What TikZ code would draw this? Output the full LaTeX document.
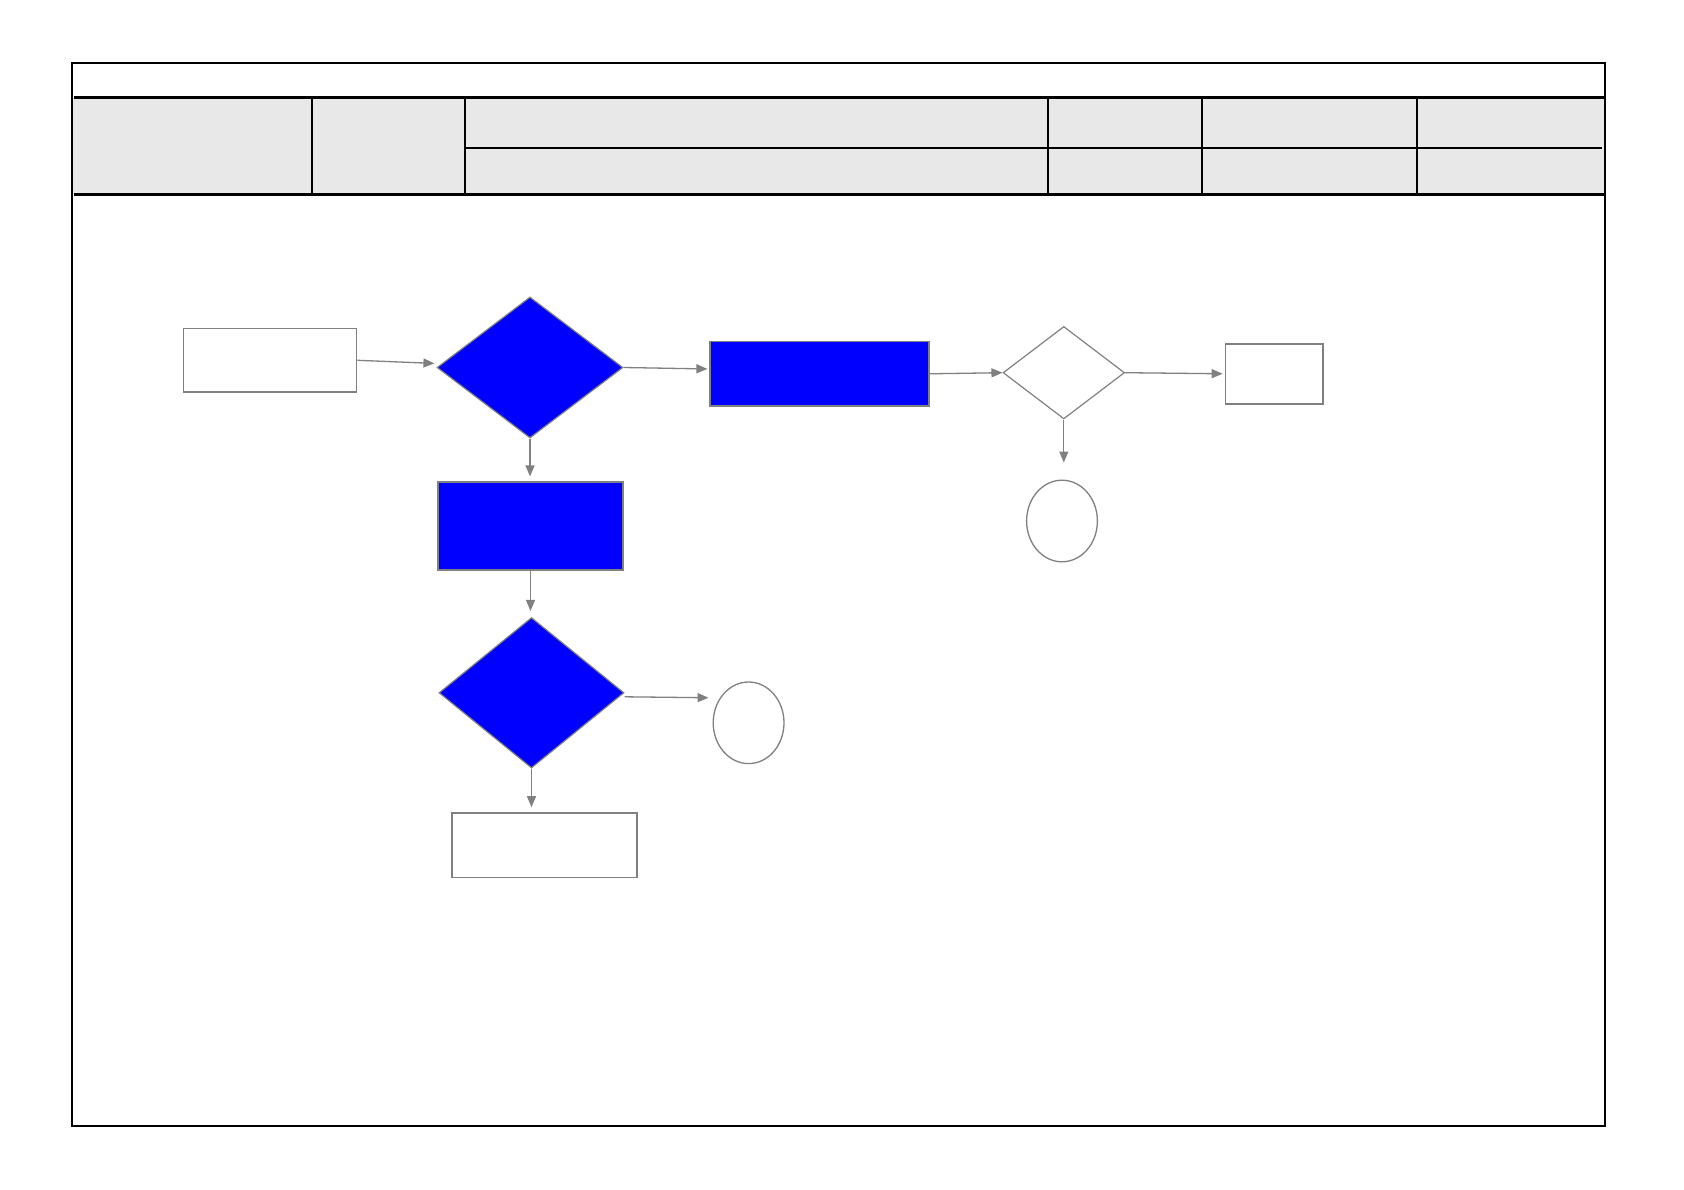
\documentclass[tikz,border=0pt]{standalone}
\usetikzlibrary{shapes.geometric,arrows.meta}
\definecolor{hdrgray}{HTML}{E8E8E8}
\definecolor{edgegray}{HTML}{808080}
\definecolor{fillblue}{HTML}{0000FF}
\tikzset{
  boxw/.style={draw=edgegray,line width=1.5pt,fill=white,inner sep=0pt},
  boxb/.style={draw=edgegray,line width=1.2pt,fill=fillblue,inner sep=0pt},
  diab/.style={diamond,draw=edgegray,line width=1.2pt,fill=fillblue,inner sep=0pt},
  diaw/.style={diamond,draw=edgegray,line width=1.2pt,fill=white,inner sep=0pt},
  ellw/.style={ellipse,draw=edgegray,line width=1.3pt,fill=white,inner sep=0pt},
  conn/.style={draw=edgegray,line width=1.3pt,-{Triangle[length=11pt,width=9pt]}},
  thin/.style={line width=2pt,black},
  thick/.style={line width=3.5pt,black}
}
\begin{document}
\begin{tikzpicture}[x=1pt,y=-1pt]
\useasboundingbox (0,0) rectangle (1684,1190);
% frame and header
\fill[hdrgray] (72,97.7) rectangle (1604.6,194.4);
\draw[thin] (72,63.4) rectangle (1604.6,1125.6);
\draw[thick] (74,97.7) -- (1604.6,97.7);
\draw[thick] (74,194.4) -- (1604.6,194.4);
\draw[thin] (465,148.2) -- (1602,148.2);
\foreach \xx in {311.5,465,1048,1202,1416.6} {
  \draw[thin] (\xx,97.7) -- (\xx,194.4);
}
% shapes
\node[boxw,minimum width=173pt,minimum height=63.5pt] (r1) at (270.2,360.3) {};
\node[diab,minimum width=186pt,minimum height=141pt] (d1) at (530,367.5) {};
\node[boxb,minimum width=219pt,minimum height=64.5pt] (r2) at (819.5,373.8) {};
\node[diaw,minimum width=121.5pt,minimum height=92.5pt] (d2) at (1063.8,372.7) {};
\node[boxw,minimum width=97.6pt,minimum height=60pt] (r3) at (1274.2,373.8) {};
\node[ellw,minimum width=70.8pt,minimum height=81.6pt] (c1) at (1062,521) {};
\node[boxb,minimum width=185pt,minimum height=88pt] (r4) at (530.5,526) {};
\node[diab,minimum width=185pt,minimum height=150.5pt] (d3) at (531.5,692.8) {};
\node[ellw,minimum width=70.8pt,minimum height=81.6pt] (c2) at (748.6,722.8) {};
\node[boxw,minimum width=185pt,minimum height=64.5pt] (r5) at (544.5,845.2) {};
% connectors
\draw[conn,shorten >=2pt] (r1.east) -- ([yshift=4pt]d1.west);
\draw[conn,shorten >=2pt] (d1.east) -- ([yshift=-1.5pt]d1.east -| r2.west);
\draw[conn] (r2.east) -- (d2.west);
\draw[conn,shorten >=2pt] (d2.east) -- (r3.west);
\draw[conn,shorten >=17pt] (d2.south) -- (d2.south |- c1.north);
\draw[conn,shorten >=5pt] (d1.south) -- (d1.south |- r4.north);
\draw[conn,shorten >=6pt] (r4.south) -- (r4.south |- d3.north);
\draw[conn,shorten >=4pt] ([yshift=-4pt]d3.east) -- ([yshift=-5pt]d3.east -| c2.west);
\draw[conn,shorten >=5pt] (d3.south) -- (d3.south |- r5.north);
\end{tikzpicture}
\end{document}
